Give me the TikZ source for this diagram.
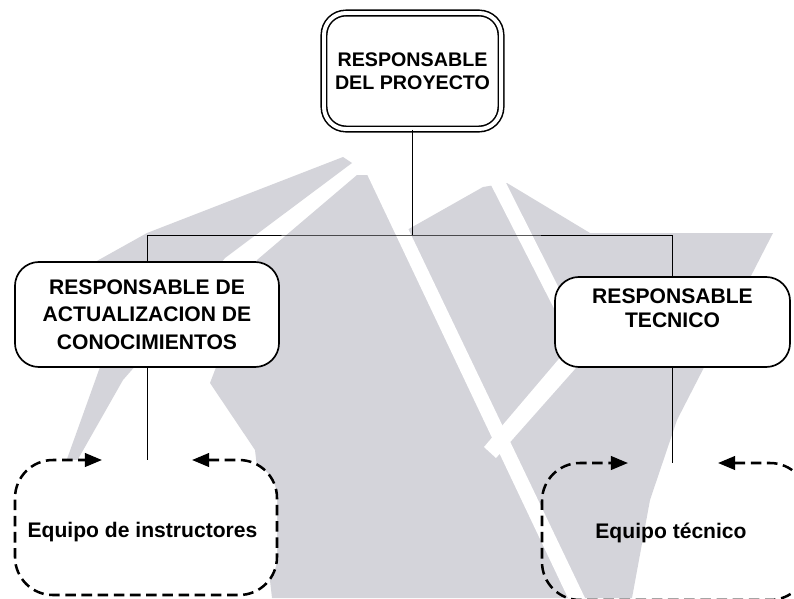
\documentclass[tikz,border=0pt]{standalone}
\usepackage{fontspec}
\setmainfont{Liberation Sans}
\usetikzlibrary{arrows.meta}
\definecolor{marca}{RGB}{212,212,218}

\begin{document}
\begin{tikzpicture}[x=0.025cm, y=-0.025cm,
        caja/.style={rectangle, draw, line width=1.2pt, fill=white, rounded corners=0.6cm, align=center, inner sep=0pt, font=\bfseries\fontsize{15}{19.5}\selectfont},
        linea/.style={line width=0.7pt},
        lazo/.style={line width=1.8pt, dash pattern=on 7.5pt off 4pt, {Triangle[length=4.3mm,width=3.4mm]}-{Triangle[length=4.3mm,width=3.4mm]}},
        equipo/.style={anchor=base, font=\bfseries\fontsize{15}{18}\selectfont}]
        \useasboundingbox (0,0) rectangle (794,598);
        \clip (0,0) rectangle (794,598);

        % marca de agua
        \fill[marca] (343,157) -- (147,233) -- (95,262) -- (100,367) -- (48,512) -- (123,380) -- (180,315) -- (225,258) -- (352,163) -- cycle;
        \fill[marca] (357,175) -- (375,175) -- (407,230) -- (483,187) -- (507,183) -- (590,233) -- (773,233) -- (677,420) -- (650,500) -- (632,598) -- (272,598) -- (255,450) -- (210,383) -- (257,260) -- cycle;
        \fill[white] (366,172) -- (381,172) -- (585,598) -- (568,598) -- cycle;
        \fill[white] (489,181) -- (505,181) -- (580,330) -- (565,330) -- cycle;
        \fill[white] (575,340) -- (590,352) -- (496,458) -- (484,447) -- cycle;

        \node (proyecto) [caja, double, double distance=2.8pt, line width=1.1pt, rounded corners=0.55cm, minimum width=4.425cm, minimum height=2.9cm, font=\bfseries\fontsize{14}{16}\selectfont] at (412.5,71) {RESPONSABLE\\DEL PROYECTO};
        \node (actualizacion) [caja, minimum width=6.6cm, minimum height=2.625cm] at (147,314.5) {RESPONSABLE DE\\ACTUALIZACION DE\\CONOCIMIENTOS};
        \node (tecnico) [caja, minimum width=5.875cm, minimum height=2.25cm] at (672.5,322) {};
        \node (tecnicotxt) [align=center, font=\bfseries\fontsize{15}{17.4}\selectfont] at ([yshift=0.35cm]tecnico.center) {RESPONSABLE\\TECNICO};

        \coordinate (bus) at (412.5,235);
        \coordinate (instr) at (147,460);
        \coordinate (tec) at (672.5,463);

        \draw[linea] (proyecto.south) -- (bus);
        \draw[linea] (actualizacion.north) |- (bus) -| (tecnico.north);

        % lazos de equipo
        \draw[lazo, fill=white] (192,460) -- (239,460) .. controls (260,460) and (277,477) .. (277,498) -- (277,557) .. controls (277,578) and (260,595) .. (239,595) -- (53,595) .. controls (32,595) and (15,578) .. (15,557) -- (15,498) .. controls (15,477) and (32,460) .. (53,460) -- (102,460);
        \draw[lazo] (718,463) -- (770,463) .. controls (791,463) and (808,480) .. (808,501) -- (808,562) .. controls (808,583) and (791,600) .. (770,600) -- (580,600) .. controls (559,600) and (542,583) .. (542,562) -- (542,501) .. controls (542,480) and (559,463) .. (580,463) -- (628,463);

        \draw[linea] (actualizacion.south) -- (instr);
        \draw[linea] (tecnico.south) -- (tec);

        \node (instructores) [equipo] at (142.5,537) {Equipo de instructores};
        \node (tecnicos) [equipo] at (671,538) {Equipo técnico};
    \end{tikzpicture}
\end{document}
